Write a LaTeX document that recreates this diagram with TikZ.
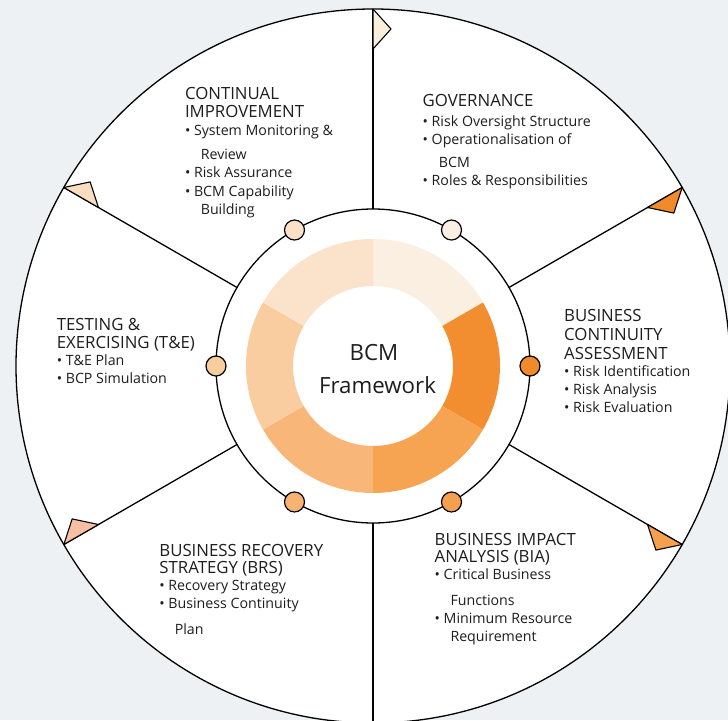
\documentclass[tikz,border=0pt]{standalone}
\usepackage{fontspec}
\setmainfont{Open Sans}
\usetikzlibrary{calc}
\definecolor{bg}{HTML}{EEF1F3}
\definecolor{ink}{HTML}{1E1E1E}
\definecolor{cA}{HTML}{FAEFE1}
\definecolor{cB}{HTML}{F28D30}
\definecolor{cC}{HTML}{F6A352}
\definecolor{cD}{HTML}{F8B779}
\definecolor{cE}{HTML}{F9CD9F}
\definecolor{cF}{HTML}{FAE3CA}
\definecolor{tA}{HTML}{FAEEDD}
\definecolor{tB}{HTML}{F08A2B}
\definecolor{tC}{HTML}{F5A04E}
\definecolor{tD}{HTML}{F7BFA3}
\definecolor{tF}{HTML}{FADDC0}
\definecolor{dA}{HTML}{FAEFE2}
\definecolor{dB}{HTML}{F08A2B}
\definecolor{dC}{HTML}{F5A04E}
\definecolor{dD}{HTML}{F8B372}
\definecolor{dE}{HTML}{F9CE9E}
\definecolor{dF}{HTML}{FBE1C6}
\tikzset{
  ring/.style={draw=black, line width=1.3pt},
  spoke/.style={draw=black, line width=1.3pt},
  flag/.style={draw=black, line width=1.1pt, line join=round},
  dot/.style={circle, draw=black, line width=1.2pt, minimum size=20pt, inner sep=0pt},
  head/.style={anchor=base west, inner sep=0pt, text=ink, font=\fontsize{16.8}{18}\selectfont},
  body/.style={anchor=base west, inner sep=0pt, text=ink, font=\fontsize{14.2}{16}\selectfont},
  ctr/.style={anchor=base, inner sep=0pt, text=ink, font=\fontsize{22.3}{24}\selectfont}
}
\begin{document}
\begin{tikzpicture}[x=1pt,y=-1pt]
\useasboundingbox (0,0) rectangle (728,720);
\fill[bg] (0,0) rectangle (728,720);
\coordinate (C) at (373,366);
% outer disc
\filldraw[fill=white, ring] (C) circle[radius=357pt];
% spokes
\foreach \a/\n in {90/s1,30/s2,-30/s3,-90/s4,-150/s5,150/s6}{
  \coordinate (\n in) at ($(C)+(\a:157pt)$);
  \coordinate (\n out) at ($(C)+(\a:357pt)$);
  \draw[spoke] (\n in) -- (\n out);
}
% flags
\foreach \a/\c in {90/tA,30/tB,-30/tC,-150/tD,150/tF}{
  \filldraw[flag, fill=\c] ($(C)+(\a:357pt)$) -- ($(C)+(\a:317pt)$) -- ($(C)+(\a:337pt)+({\a-90}:18pt)$) -- cycle;
}
% inner ring
\draw[ring] (C) circle[radius=157pt];
% donut segments
\foreach \s/\e/\c in {30/90/cA,-30/30/cB,-90/-30/cC,-150/-90/cD,150/210/cE,90/150/cF}{
  \fill[\c] ($(C)+(\s:127pt)$) arc[start angle=\s, end angle=\e, radius=127pt]
     -- ($(C)+(\e:80pt)$) arc[start angle=\e, end angle=\s, radius=80pt] -- cycle;
}
% dots
\node[dot, fill=dF] (d1) at ($(C)+(120:157pt)$) {};
\node[dot, fill=dA] (d2) at ($(C)+(60:157pt)$) {};
\node[dot, fill=dB] (d3) at ($(C)+(0:157pt)$) {};
\node[dot, fill=dC] (d4) at ($(C)+(-60:157pt)$) {};
\node[dot, fill=dD] (d5) at ($(C)+(-120:157pt)$) {};
\node[dot, fill=dE] (d6) at ($(C)+(180:157pt)$) {};
% centre text
\node[ctr] (m1) at (374,360.7) {BCM};
\node[ctr] (m2) at (377.5,393.3) {Framework};
% Continual improvement
\node[head] (ci1) at (184.8,99) {CONTINUAL};
\node[head] (ci2) at (184.8,117.3) {IMPROVEMENT};
\node[body] (ci3) at (184.8,135) {• System Monitoring \&};
\node[body] (ci4) at (200.6,159.3) {Review};
\node[body] (ci5) at (184.8,177.7) {• Risk Assurance};
\node[body] (ci6) at (184.8,196) {• BCM Capability};
\node[body] (ci7) at (200.6,214.3) {Building};
% Governance
\node[head] (g1) at (422.5,106) {GOVERNANCE};
\node[body] (g2) at (422.5,126) {• Risk Oversight Structure};
\node[body] (g3) at (422.5,144) {• Operationalisation of};
\node[body] (g4) at (438.7,167) {BCM};
\node[body] (g5) at (422.5,185) {• Roles \& Responsibilities};
% Testing
\node[head] (t1) at (56.6,330) {TESTING \&};
\node[head] (t2) at (56.6,348.3) {EXERCISING (T\&E)};
\node[body] (t3) at (56.6,365.5) {• T\&E Plan};
\node[body] (t4) at (56.6,383) {• BCP Simulation};
% BCA
\node[head] (b1) at (564,321.7) {BUSINESS};
\node[head] (b2) at (564,340.5) {CONTINUITY};
\node[head] (b3) at (564,359) {ASSESSMENT};
\node[body] (b4) at (564,376.5) {• Risk Identification};
\node[body] (b5) at (564,394.5) {• Risk Analysis};
\node[body] (b6) at (564,412) {• Risk Evaluation};
% BRS
\node[head] (r1) at (159.2,556) {BUSINESS RECOVERY};
\node[head] (r2) at (159.2,573.5) {STRATEGY (BRS)};
\node[body] (r3) at (159.2,590.5) {• Recovery Strategy};
\node[body] (r4) at (159.2,608.5) {• Business Continuity};
\node[body] (r5) at (174.6,634) {Plan};
% BIA
\node[head] (i1) at (434.5,545) {BUSINESS IMPACT};
\node[head] (i2) at (434.5,562.5) {ANALYSIS (BIA)};
\node[body] (i3) at (434.5,579.5) {• Critical Business};
\node[body] (i4) at (450.3,605) {Functions};
\node[body] (i5) at (434.5,623) {• Minimum Resource};
\node[body] (i6) at (450.3,641) {Requirement};
\end{tikzpicture}
\end{document}
